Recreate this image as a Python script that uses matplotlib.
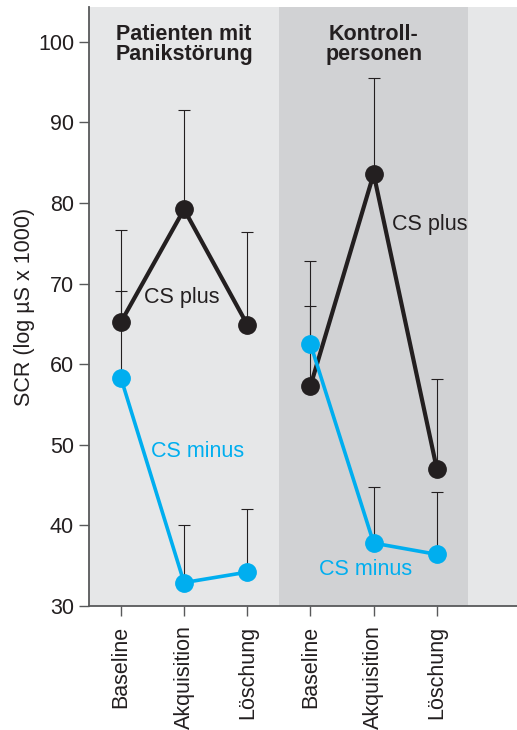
import matplotlib
matplotlib.use("Agg")
import matplotlib.pyplot as plt
import numpy as np

plt.rcParams["font.family"] = ["Liberation Sans", "DejaVu Sans"]

# ── data ──────────────────────────────────────────────────────────────────────
phases = ["Baseline", "Akquisition", "Löschung", "Baseline", "Akquisition", "Löschung"]
groups = ["Patienten mit\nPanikstörung", "Kontroll-\npersonen"]

pat_plus = [65.2, 79.2, 64.9]
pat_plus_top = [76.7, 91.5, 76.4]
pat_minus = [58.3, 32.9, 34.2]
pat_minus_top = [69.1, 40.0, 42.0]

ctl_plus = [57.3, 83.6, 47.0]
ctl_plus_top = [67.2, 95.5, 58.2]
ctl_minus = [62.5, 37.8, 36.4]
ctl_minus_top = [72.8, 44.7, 44.1]

BLACK = "#231f20"
BLUE = "#00aeef"
LIGHT = "#e6e7e8"
DARK = "#d1d2d4"
AXIS = "#58595b"
FS = 15.5

x = np.arange(len(phases))
xp, xc = x[:3], x[3:]

fig = plt.figure(figsize=(5.17, 7.30), dpi=100)
ax = fig.add_axes([0.1727, 0.1699, 0.8434, 0.8205])

ax.set_xlim(-0.5, 6.4)
ax.set_ylim(30, 104.3)

# background bands
ax.axvspan(-0.5, 2.5, color=LIGHT, zorder=0, lw=0)
ax.axvspan(2.5, 5.5, color=DARK, zorder=0, lw=0)
ax.axvspan(5.5, 6.4, color=LIGHT, zorder=0, lw=0)

# upward error bars
def upbars(xs, vals, tops):
    vals = np.array(vals)
    tops = np.array(tops)
    ax.errorbar(xs, vals, yerr=[np.zeros_like(vals), tops - vals], fmt="none",
                ecolor=BLACK, elinewidth=0.8, capsize=4.5, capthick=0.8, zorder=2)

upbars(xp, pat_plus, pat_plus_top)
upbars(xp, pat_minus, pat_minus_top)
upbars(xc, ctl_plus, ctl_plus_top)
upbars(xc, ctl_minus, ctl_minus_top)

for xs, vals in [(xp, pat_plus), (xc, ctl_plus)]:
    ax.plot(xs, vals, color=BLACK, lw=3, marker="o", ms=12.5, zorder=3)
for xs, vals in [(xp, pat_minus), (xc, ctl_minus)]:
    ax.plot(xs, vals, color=BLUE, lw=2.6, marker="o", ms=12.5, zorder=4)

# series labels
ax.text(0.37, 68.3, "CS plus", color=BLACK, fontsize=FS, va="center", ha="left")
ax.text(4.29, 77.3, "CS plus", color=BLACK, fontsize=FS, va="center", ha="left")
ax.text(0.47, 49.1, "CS minus", color=BLUE, fontsize=FS, va="center", ha="left")
ax.text(3.13, 34.5, "CS minus", color=BLUE, fontsize=FS, va="center", ha="left")

# group titles
ax.text(1, 102.2, groups[0], fontsize=FS, fontweight="bold", color=BLACK,
        ha="center", va="top", linespacing=0.95)
ax.text(4, 102.2, groups[1], fontsize=FS, fontweight="bold", color=BLACK,
        ha="center", va="top", linespacing=0.95)

# axes styling
ax.set_xticks(x)
ax.set_xticklabels(phases, rotation=90, fontsize=FS, color=BLACK)
ax.set_yticks(np.arange(30, 101, 10))
ax.tick_params(axis="y", labelsize=FS, labelcolor=BLACK, length=7, width=1, color=AXIS, pad=4)
ax.tick_params(axis="x", length=7, width=1, color=AXIS, pad=7)
ax.set_ylabel("SCR (log µS x 1000)", fontsize=FS, color=BLACK, labelpad=2)
for s in ["top", "right"]:
    ax.spines[s].set_visible(False)
for s in ["left", "bottom"]:
    ax.spines[s].set_color(AXIS)
    ax.spines[s].set_linewidth(1.3)

fig.savefig("out.png", dpi=100)
